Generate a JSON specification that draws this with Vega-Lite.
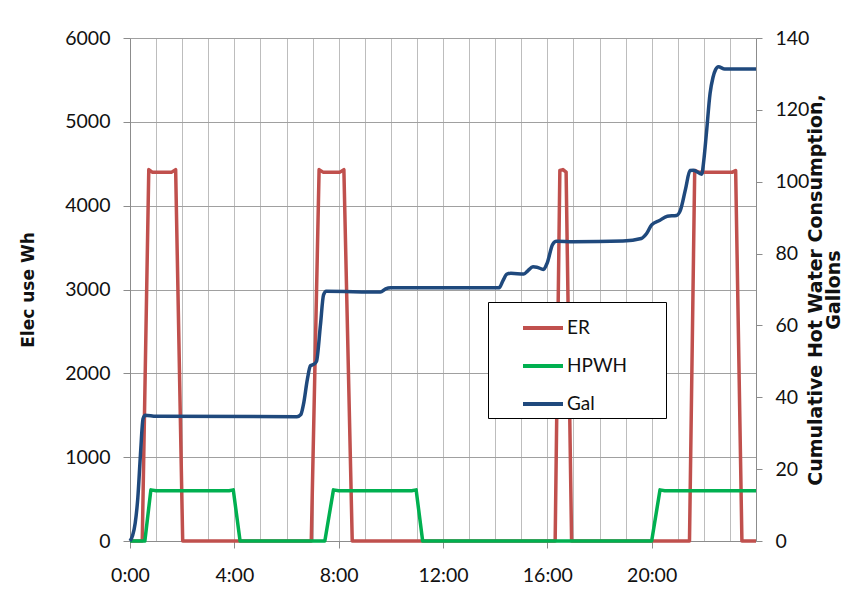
{
  "$schema": "https://vega.github.io/schema/vega-lite/v6.json",
  "width": 626,
  "height": 503,
  "autosize": {"type": "none"},
  "padding": {"left": 130, "top": 38, "right": 90, "bottom": 69},
  "background": "white",
  "config": {
    "view": {"stroke": null},
    "font": "Lato",
    "axis": {
      "labelFont": "Lato",
      "labelFontSize": 19.5,
      "labelColor": "#111111",
      "titleFont": "DejaVu Sans",
      "titleFontSize": 19,
      "titleFontWeight": "bold",
      "titleColor": "#111111",
      "domainColor": "#8c8c8c",
      "tickColor": "#8c8c8c",
      "gridColor": "#a0a0a0"
    },
    "legend": {"labelFont": "Lato"}
  },
  "data": {
    "values": [
      {"hour": 0, "series": "ER", "value": 0},
      {"hour": 0.47, "series": "ER", "value": 0},
      {"hour": 0.72, "series": "ER", "value": 4430},
      {"hour": 0.85, "series": "ER", "value": 4400},
      {"hour": 1.6, "series": "ER", "value": 4400},
      {"hour": 1.75, "series": "ER", "value": 4430},
      {"hour": 2.02, "series": "ER", "value": 0},
      {"hour": 6.95, "series": "ER", "value": 0},
      {"hour": 7.25, "series": "ER", "value": 4430},
      {"hour": 7.4, "series": "ER", "value": 4400},
      {"hour": 8.05, "series": "ER", "value": 4400},
      {"hour": 8.2, "series": "ER", "value": 4430},
      {"hour": 8.52, "series": "ER", "value": 0},
      {"hour": 16.3, "series": "ER", "value": 0},
      {"hour": 16.48, "series": "ER", "value": 4420},
      {"hour": 16.6, "series": "ER", "value": 4430},
      {"hour": 16.72, "series": "ER", "value": 4400},
      {"hour": 16.93, "series": "ER", "value": 0},
      {"hour": 21.45, "series": "ER", "value": 0},
      {"hour": 21.65, "series": "ER", "value": 4420},
      {"hour": 21.8, "series": "ER", "value": 4400},
      {"hour": 23.1, "series": "ER", "value": 4400},
      {"hour": 23.22, "series": "ER", "value": 4420},
      {"hour": 23.46, "series": "ER", "value": 0},
      {"hour": 24, "series": "ER", "value": 0},

      {"hour": 0, "series": "HPWH", "value": 0},
      {"hour": 0.57, "series": "HPWH", "value": 0},
      {"hour": 0.8, "series": "HPWH", "value": 610},
      {"hour": 1.0, "series": "HPWH", "value": 600},
      {"hour": 3.8, "series": "HPWH", "value": 600},
      {"hour": 3.96, "series": "HPWH", "value": 610},
      {"hour": 4.22, "series": "HPWH", "value": 0},
      {"hour": 7.47, "series": "HPWH", "value": 0},
      {"hour": 7.8, "series": "HPWH", "value": 610},
      {"hour": 8.0, "series": "HPWH", "value": 600},
      {"hour": 10.8, "series": "HPWH", "value": 600},
      {"hour": 10.97, "series": "HPWH", "value": 610},
      {"hour": 11.22, "series": "HPWH", "value": 0},
      {"hour": 20.0, "series": "HPWH", "value": 0},
      {"hour": 20.32, "series": "HPWH", "value": 610},
      {"hour": 20.5, "series": "HPWH", "value": 600},
      {"hour": 24, "series": "HPWH", "value": 600},

      {"hour": 0, "series": "Gal", "value": 0},
      {"hour": 0.1, "series": "Gal", "value": 1.5},
      {"hour": 0.2, "series": "Gal", "value": 5},
      {"hour": 0.3, "series": "Gal", "value": 12},
      {"hour": 0.4, "series": "Gal", "value": 24},
      {"hour": 0.5, "series": "Gal", "value": 34},
      {"hour": 0.58, "series": "Gal", "value": 35},
      {"hour": 1.0, "series": "Gal", "value": 34.7},
      {"hour": 6.4, "series": "Gal", "value": 34.6},
      {"hour": 6.55, "series": "Gal", "value": 35.2},
      {"hour": 6.65, "series": "Gal", "value": 38},
      {"hour": 6.8, "series": "Gal", "value": 45},
      {"hour": 6.92, "series": "Gal", "value": 48.8},
      {"hour": 7.05, "series": "Gal", "value": 49.2},
      {"hour": 7.15, "series": "Gal", "value": 50},
      {"hour": 7.3, "series": "Gal", "value": 60},
      {"hour": 7.42, "series": "Gal", "value": 68.5},
      {"hour": 7.52, "series": "Gal", "value": 69.5},
      {"hour": 9.6, "series": "Gal", "value": 69.3},
      {"hour": 9.8, "series": "Gal", "value": 70.2},
      {"hour": 10.0, "series": "Gal", "value": 70.5},
      {"hour": 14.15, "series": "Gal", "value": 70.5},
      {"hour": 14.3, "series": "Gal", "value": 72.5},
      {"hour": 14.45, "series": "Gal", "value": 74.3},
      {"hour": 14.6, "series": "Gal", "value": 74.5},
      {"hour": 15.1, "series": "Gal", "value": 74.3},
      {"hour": 15.25, "series": "Gal", "value": 75.2},
      {"hour": 15.45, "series": "Gal", "value": 76.3},
      {"hour": 15.6, "series": "Gal", "value": 76.2},
      {"hour": 15.85, "series": "Gal", "value": 75.6},
      {"hour": 16.0, "series": "Gal", "value": 77.5},
      {"hour": 16.2, "series": "Gal", "value": 82.5},
      {"hour": 16.35, "series": "Gal", "value": 83.4},
      {"hour": 17.0, "series": "Gal", "value": 83.3},
      {"hour": 18.9, "series": "Gal", "value": 83.5},
      {"hour": 19.6, "series": "Gal", "value": 84.2},
      {"hour": 19.8, "series": "Gal", "value": 85.5},
      {"hour": 20.0, "series": "Gal", "value": 88.0},
      {"hour": 20.3, "series": "Gal", "value": 89.2},
      {"hour": 20.6, "series": "Gal", "value": 90.4},
      {"hour": 20.95, "series": "Gal", "value": 90.6},
      {"hour": 21.1, "series": "Gal", "value": 92},
      {"hour": 21.3, "series": "Gal", "value": 98},
      {"hour": 21.47, "series": "Gal", "value": 103.1},
      {"hour": 21.6, "series": "Gal", "value": 103.2},
      {"hour": 21.92, "series": "Gal", "value": 102.1},
      {"hour": 22.0, "series": "Gal", "value": 106},
      {"hour": 22.1, "series": "Gal", "value": 113.6},
      {"hour": 22.24, "series": "Gal", "value": 124.6},
      {"hour": 22.35, "series": "Gal", "value": 129},
      {"hour": 22.45, "series": "Gal", "value": 131.2},
      {"hour": 22.56, "series": "Gal", "value": 132},
      {"hour": 22.8, "series": "Gal", "value": 131.4},
      {"hour": 24, "series": "Gal", "value": 131.4}
    ]
  },
  "encoding": {
    "color": {
      "field": "series",
      "type": "nominal",
      "scale": {"domain": ["ER", "HPWH", "Gal"], "range": ["#C0504D", "#00B050", "#1F497D"]},
      "legend": {
        "title": null,
        "orient": "none",
        "legendX": 358,
        "legendY": 264,
        "direction": "vertical",
        "fillColor": "white",
        "strokeColor": "#000000",
        "padding": 4,
        "symbolType": "stroke",
        "symbolSize": 1600,
        "symbolStrokeWidth": 4,
        "symbolOffset": 29,
        "labelFontSize": 19,
        "labelColor": "#111111",
        "labelOffset": 2,
        "rowPadding": 6,
        "labelExpr": "datum.label + '\u00a0\u00a0\u00a0\u00a0\u00a0\u00a0\u00a0\u200b'"
      }
    }
  },
  "layer": [
    {
      "encoding": {
        "x": {
          "field": "hour",
          "type": "quantitative",
          "scale": {"domain": [0, 24], "nice": false, "zero": false},
          "axis": {
            "title": null,
            "orient": "bottom",
            "values": [0, 4, 8, 12, 16, 20],
            "labelExpr": "datum.value + ':00'",
            "grid": false,
            "tickSize": 7,
            "labelPadding": 18,
            "labelFlush": false,
            "labelOverlap": false
          }
        },
        "y": {
          "field": "value",
          "type": "quantitative",
          "scale": {"domain": [0, 6000], "nice": false},
          "axis": {
            "title": "Elec use Wh",
            "titleFontSize": 17,
            "format": "d",
            "values": [0, 1000, 2000, 3000, 4000, 5000, 6000],
            "grid": true,
            "tickSize": 7,
            "labelPadding": 13,
            "titlePadding": 27
          }
        }
      },
      "layer": [
        {
          "transform": [{"filter": "datum.series == 'ER'"}],
          "mark": {"type": "line", "strokeWidth": 3.5, "strokeJoin": "round"}
        },
        {
          "transform": [{"filter": "datum.series == 'HPWH'"}],
          "mark": {"type": "line", "strokeWidth": 3.5, "strokeJoin": "round"}
        }
      ]
    },
    {
      "transform": [{"filter": "datum.series == 'Gal'"}],
      "mark": {"type": "line", "strokeWidth": 3.5, "interpolate": "monotone", "strokeJoin": "round"},
      "encoding": {
        "x": {
          "field": "hour",
          "type": "quantitative",
          "scale": {"domain": [0, 24], "nice": false, "zero": false},
          "axis": {
            "title": null,
            "orient": "top",
            "values": [0,1,2,3,4,5,6,7,8,9,10,11,12,13,14,15,16,17,18,19,20,21,22,23,24],
            "labels": false,
            "ticks": false,
            "domain": false,
            "grid": true,
            "gridColor": "#bdbdbd"
          }
        },
        "y": {
          "field": "value",
          "type": "quantitative",
          "scale": {"domain": [0, 140], "nice": false},
          "axis": {
            "orient": "right",
            "title": ["Cumulative Hot Water Consumption,", "Gallons"],
            "titleAngle": 270,
            "titleLineHeight": 18,
            "values": [0, 20, 40, 60, 80, 100, 120, 140],
            "grid": false,
            "tickSize": 6,
            "labelPadding": 13,
            "titlePadding": -1
          }
        }
      }
    }
  ],
  "resolve": {"scale": {"y": "independent"}, "axis": {"x": "independent"}}
}
